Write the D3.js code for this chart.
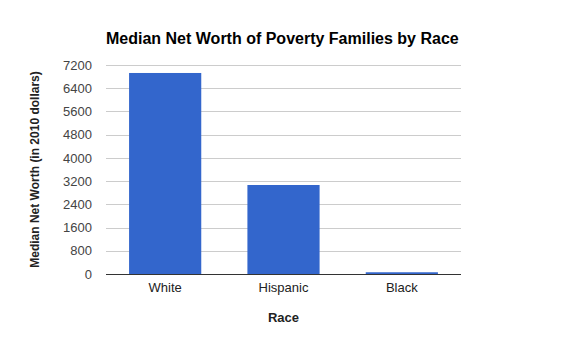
<!DOCTYPE html>
<html><head><meta charset="utf-8">
<script src="https://cdn.jsdelivr.net/npm/d3@7"></script>
<style>
body{margin:0;background:#fff;}
text{font-family:"Liberation Sans",Arial,sans-serif;}
</style></head>
<body><svg id="c" width="567" height="340"></svg>
<script>
const categories = ["White", "Hispanic", "Black"];
const values = [6925, 3066, 60];
const yTicks = [0, 800, 1600, 2400, 3200, 4000, 4800, 5600, 6400, 7200];
const title = "Median Net Worth of Poverty Families by Race";
const yTitle = "Median Net Worth (in 2010 dollars)";
const xTitle = "Race";

const svg = d3.select("#c");
const L = 106, R = 461, T = 65, B = 274;
const x = d3.scaleBand().domain(categories).range([L, R]).paddingInner(0.39).paddingOuter(0.195);
const y = d3.scaleLinear().domain([0, 7200]).range([B, T]);

svg.append("rect").attr("width",567).attr("height",340).attr("fill","#fff");

// gridlines
svg.append("g").selectAll("line").data(yTicks.filter(d=>d>0)).join("line")
  .attr("x1",L).attr("x2",R).attr("y1",d=>Math.round(y(d))+0.5).attr("y2",d=>Math.round(y(d))+0.5)
  .attr("stroke","#cccccc").attr("stroke-width",1);

// y axis labels
const yAxis = d3.axisLeft(y).tickValues(yTicks).tickSize(0).tickPadding(14).tickFormat(d3.format("d"));
const ga = svg.append("g").attr("transform",`translate(${L},0)`).call(yAxis);
ga.select(".domain").remove();
ga.selectAll("text").attr("font-size",13).attr("fill","#444").attr("font-family","Liberation Sans, Arial, sans-serif");

// bars
svg.append("g").selectAll("rect").data(values).join("rect")
  .attr("x",(d,i)=>x(categories[i])).attr("width",x.bandwidth())
  .attr("y",d=>y(d)).attr("height",d=>B-y(d)).attr("fill","#3366cc");

// baseline
svg.append("line").attr("x1",L).attr("x2",R).attr("y1",B+0.5).attr("y2",B+0.5).attr("stroke","#333").attr("stroke-width",1);

// x axis labels
const xAxis = d3.axisBottom(x).tickSize(0).tickPadding(9);
const gx = svg.append("g").attr("transform",`translate(0,${B})`).call(xAxis);
gx.select(".domain").remove();
gx.selectAll("text").attr("font-size",13).attr("fill","#222").attr("font-family","Liberation Sans, Arial, sans-serif");

// titles
svg.append("text").attr("x",L).attr("y",44).attr("font-size",16).attr("font-weight","bold").attr("fill","#000").text(title);
svg.append("text").attr("x",(L+R)/2).attr("y",322).attr("text-anchor","middle").attr("font-size",13).attr("font-weight","bold").attr("fill","#222").text(xTitle);
svg.append("text").attr("transform",`translate(39,${(T+B)/2}) rotate(-90)`).attr("text-anchor","middle").attr("font-size",12).attr("font-weight","bold").attr("fill","#222").text(yTitle);
</script></body></html>
